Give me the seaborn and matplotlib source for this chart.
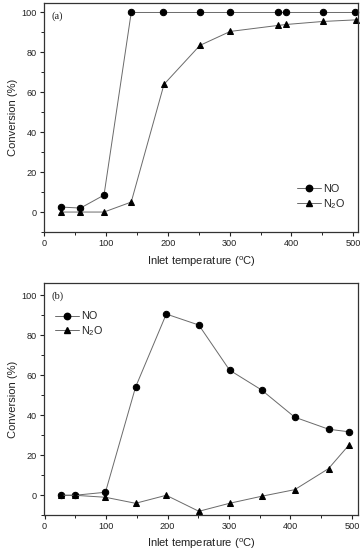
import matplotlib
matplotlib.use("Agg")
import matplotlib.pyplot as plt
import seaborn as sns
import pandas as pd
from matplotlib.lines import Line2D
from matplotlib.ticker import MultipleLocator

sns.set_style("ticks")
plt.rcParams['font.family'] = ['Liberation Sans', 'DejaVu Sans']
plt.rcParams['mathtext.fontset'] = 'custom'
plt.rcParams['mathtext.rm'] = 'Liberation Sans'

# Panel (a)
temp_a = [27, 59, 97, 141, 193, 252, 301, 378, 392, 451, 503]
no_a = [2.5, 2.0, 8.5, 100, 100, 100, 100, 100, 100, 100, 100]
temp_a_n2o = [27, 59, 97, 141, 194, 252, 301, 378, 392, 451, 504]
n2o_a = [0, 0, 0, 5, 64, 83.5, 90.5, 93.5, 94, 95.5, 96.3]

# Panel (b)
temp_b = [27, 49, 99, 148, 198, 251, 301, 353, 407, 462, 495]
no_b = [0, 0, 1.5, 54, 90.5, 85, 62.5, 52.6, 39, 33, 31.7]
n2o_b = [0, 0, -1, -4, 0, -8, -4, -0.5, 2.8, 13.3, 25]

series_labels = ['NO', 'N$_\\mathregular{2}$O']
panel_labels = ['(a)', '(b)']
xticks = [0, 100, 200, 300, 400, 500]
yticks = [0, 20, 40, 60, 80, 100]

W, H = 362, 552
fig = plt.figure(figsize=(W / 100, H / 100), dpi=100)
fig.patch.set_facecolor('white')

ax_a = fig.add_axes([44 / W, 1 - 232 / H, 314 / W, (232 - 3.3) / H])
ax_b = fig.add_axes([44 / W, 1 - 515.3 / H, 314 / W, (515.3 - 283) / H])

line_col = '#6a6a6a'

def draw(ax, xs1, ys1, xs2, ys2):
    df1 = pd.DataFrame({'T': xs1, 'C': ys1})
    df2 = pd.DataFrame({'T': xs2, 'C': ys2})
    sns.lineplot(data=df1, x='T', y='C', ax=ax, color=line_col, lw=0.7,
                 marker='o', markersize=4.6, markerfacecolor='k', markeredgecolor='k',
                 sort=False, estimator=None, clip_on=False)
    sns.lineplot(data=df2, x='T', y='C', ax=ax, color=line_col, lw=0.7,
                 marker='^', markersize=4.9, markerfacecolor='k', markeredgecolor='k',
                 sort=False, estimator=None, clip_on=False)

draw(ax_a, temp_a, no_a, temp_a_n2o, n2o_a)
draw(ax_b, temp_b, no_b, temp_b, n2o_b)

ax_a.set_xlim(0, 507.6)
ax_a.set_ylim(-10, 104.6)
ax_b.set_xlim(-1, 510)
ax_b.set_ylim(-10, 106)

for ax, pl, lp in zip([ax_a, ax_b], panel_labels, [5, 4]):
    ax.set_xticks(xticks)
    ax.set_yticks(yticks)
    ax.xaxis.set_minor_locator(MultipleLocator(50))
    ax.yaxis.set_minor_locator(MultipleLocator(10))
    ax.tick_params(which='major', direction='out', length=3, width=0.8,
                   labelsize=6.6, pad=2, colors='#222222')
    ax.tick_params(which='minor', direction='out', length=2, width=0.7, colors='#222222')
    for s in ax.spines.values():
        s.set_linewidth(0.9)
        s.set_color('#333333')
    ax.set_xlabel('Inlet temperature ($^\\mathregular{o}$C)', fontsize=8, labelpad=lp, color='#222222')
    ax.set_ylabel('Conversion (%)', fontsize=8, labelpad=3, color='#222222')
    ax.text(0.025, 0.965, pl, transform=ax.transAxes, ha='left', va='top',
            fontsize=7.6, family='Liberation Serif', color='#222222')

handles = [
    Line2D([], [], color=line_col, lw=0.7, marker='o', markersize=4.6,
           markerfacecolor='k', markeredgecolor='k'),
    Line2D([], [], color=line_col, lw=0.7, marker='^', markersize=4.9,
           markerfacecolor='k', markeredgecolor='k'),
]
ax_a.legend(handles, series_labels, loc='lower right', bbox_to_anchor=(0.985, 0.06),
            frameon=False, fontsize=7.8, handlelength=2.2, handletextpad=0.2,
            labelspacing=0.25, borderpad=0.2)
ax_b.legend(handles, series_labels, loc='upper left', bbox_to_anchor=(0.01, 0.91),
            frameon=False, fontsize=7.8, handlelength=2.2, handletextpad=0.2,
            labelspacing=0.25, borderpad=0.2)

fig.savefig('out.png', dpi=100)
